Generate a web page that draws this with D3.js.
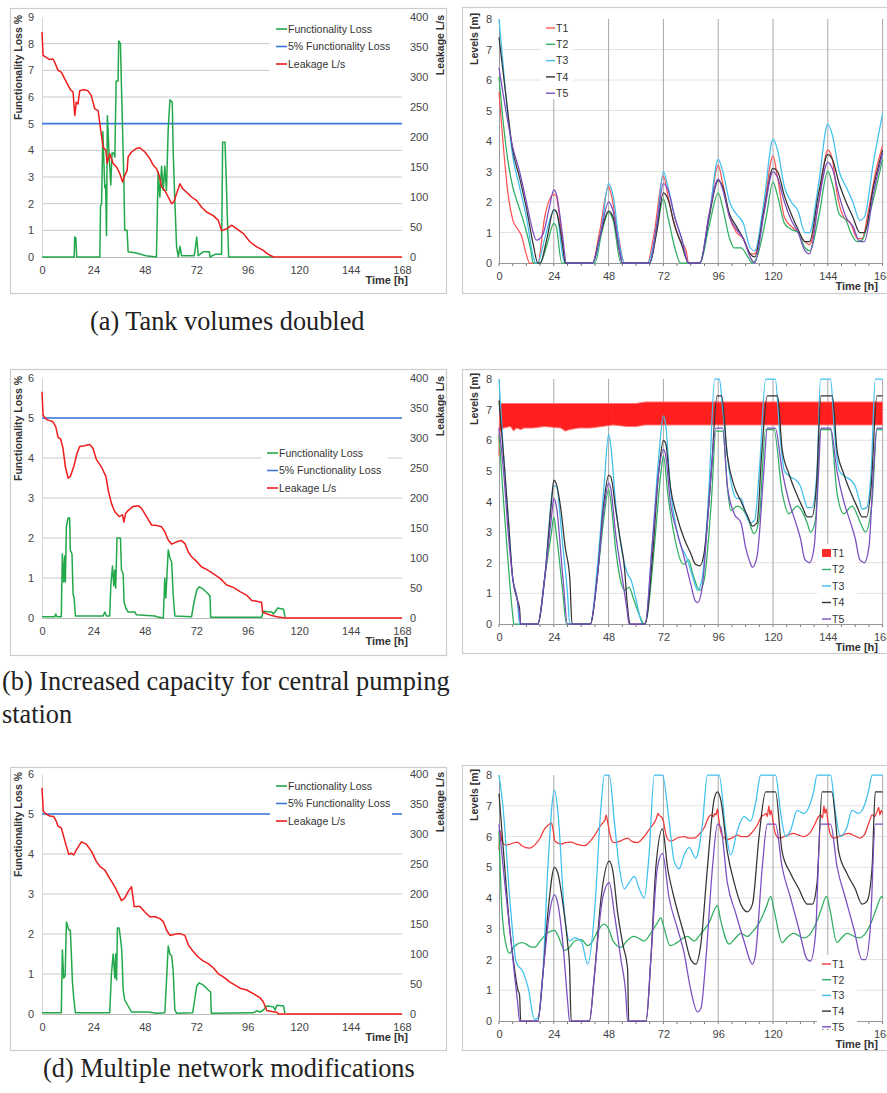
<!DOCTYPE html>
<html><head><meta charset="utf-8">
<script src="https://cdn.jsdelivr.net/npm/d3@7"></script>
<style>body{margin:0;background:#fff}</style>
</head><body><svg id="c" width="887" height="1093"></svg>
<script>
// ---------- tick labels / categories ----------
const hourTicks=[0,24,48,72,96,120,144,168];
const minorHourTicks=d3.range(0,169,6);
const lossTicksA=[0,1,2,3,4,5,6,7,8,9];
const lossTicksB=[0,1,2,3,4,5,6];
const leakTicks=[0,50,100,150,200,250,300,350,400];
const levelTicks=[0,1,2,3,4,5,6,7,8];
const leftLegend=["Functionality Loss","5% Functionality Loss","Leakage L/s"];
const tankNames=["T1","T2","T3","T4","T5"];
const threshold=[[0,5],[168,5]];

// ---------- (a) Tank volumes doubled ----------
const aLoss=[[0,0],[15,0],[15.3,0.75],[15.8,0.7],[16.2,0],[27,0],[27.3,1.9],[27.8,2.0],[28.4,4.7],[29.3,2.6],[29.7,2.7],[30.1,0.8],[30.5,5.3],[31.2,4.0],[32.1,2.7],[32.7,3.9],[33.5,3.9],[34,3.75],[34.6,6.6],[35.5,6.6],[35.8,8.1],[36.6,8.0],[37.2,6.0],[38.2,2.9],[38.6,1.0],[39.7,1.0],[40.2,0.2],[44,0.15],[48.5,0.05],[53.4,0],[54.2,3.2],[55,2.25],[55.8,3.4],[56.6,2.5],[57.3,3.4],[58.1,2.5],[58.9,4.8],[59.7,5.9],[60.8,5.8],[61.2,4.0],[62,2.1],[62.8,0.4],[63.6,0],[64.4,0.4],[65.1,0.05],[71,0.05],[71.4,0.25],[72.2,0.75],[72.9,0.05],[75.3,0.2],[78.1,0.2],[78.4,0],[80.7,0.1],[83.8,0.1],[84.3,4.3],[85.4,4.3],[85.9,3.1],[86.5,1.5],[87.1,0],[108,0]];
const aLeak=[[0,375],[0.5,336],[3.6,329],[5.1,330],[5.9,325],[7.5,311],[9,308],[10.6,297],[12.2,286],[13.2,279],[14.5,275],[15.3,236],[16,258],[16.8,255],[17.6,277],[19.2,279],[21.5,277],[23,269],[24.6,247],[26.2,244],[27,222],[28.5,183],[29.8,178],[30.4,156],[31.6,172],[33.2,156],[34.8,150],[36.3,139],[37.6,125],[38.6,136],[39.7,144],[40.2,167],[41.8,175],[44.1,181],[45.7,182],[48,175],[50.3,164],[51.9,153],[53.5,147],[54.7,136],[55.8,117],[57.3,111],[58.9,100],[60.5,89],[61.6,92],[62.8,106],[64.4,122],[65.6,114],[67.5,108],[69.8,100],[72.2,94],[74.5,83],[76.8,75],[79.9,69],[82.3,61],[83.8,44],[86.2,47],[88.5,53],[90.9,47],[94,39],[97.1,25],[100.2,17],[103.3,11],[104.9,6],[108,0],[168,0]];
const aT1=[[0,5.6],[1.7,4.0],[3.9,2.3],[6.1,1.4],[8.3,1.1],[9.8,0.9],[11.9,0.3],[13.4,0],[17,0],[20,1.5],[24,2.25],[25,2.2],[27,1.2],[29,0],[41,0],[44,1.0],[48,2.5],[49,2.3],[52,1.0],[55,0],[65,0],[68,1.0],[72,2.85],[74,2.2],[76,1.5],[79,0.8],[82,0.4],[83,0],[88,0],[92,1.5],[96,3.2],[98,2.6],[101,1.5],[104,1.0],[107,0.8],[110,0.3],[112,0.3],[116,1.8],[120,3.5],[122,2.8],[125,1.5],[128,1.2],[131,1.0],[134,0.7],[136,0.6],[140,2.0],[144,3.7],[146,3.4],[148,2.3],[151,1.5],[154,1.3],[157,0.8],[159,0.8],[162,1.8],[165,3.0],[168,3.85]];
const aT2=[[0,6.1],[2,4.5],[4,3.3],[6,2.5],[8,2.0],[11,1.3],[14,0.4],[15,0],[18,0],[21,0.6],[24,1.3],[25,1.2],[27.5,0],[42,0],[45,1.0],[48,1.65],[50,1.4],[53.4,0],[66,0],[69,1.0],[72,2.1],[74,1.5],[77,0.5],[79.5,0],[88,0],[92,1.2],[96,2.3],[98,1.8],[101,0.8],[103,0.5],[106,0.5],[109,0.2],[111,0],[113,0.2],[117,1.5],[120,2.65],[122,2.2],[125,1.3],[128,1.1],[131,1.0],[134,0.5],[136,0.4],[140,1.5],[144,3.0],[146,2.6],[149,1.6],[152,1.4],[154,1.0],[157,0.7],[159,0.75],[163,1.8],[168,3.4]];
const aT3=[[0,8.0],[3,5.5],[6,3.5],[9,2.5],[12,1.5],[15,0.2],[16,0],[17,0],[20,0.8],[24,1.7],[25,1.7],[28,0.2],[29,0],[41,0],[45,1.2],[48,2.6],[50,2.2],[53,0.5],[55,0],[65,0],[69,1.2],[72,3.0],[74,2.5],[77,1.5],[80,0.8],[83,0],[88,0],[92,1.5],[96,3.4],[98,3.0],[101,2.0],[104,1.6],[107,1.3],[110,0.5],[112,0.4],[116,2.0],[120,4.05],[122,3.7],[125,2.5],[128,2.0],[131,1.7],[134,1.0],[136,1.0],[140,2.6],[144,4.55],[146,4.2],[149,3.0],[152,2.5],[155,2.0],[158,1.4],[160,1.5],[164,3.3],[168,4.9]];
const aT4=[[0,7.4],[3,5.5],[6,3.7],[9,2.8],[12,1.8],[15,0.6],[17,0],[18,0],[21,0.8],[24,1.75],[25,1.7],[28,0.5],[29,0],[41,0],[44,0.8],[48,1.7],[50,1.5],[53,0.3],[54,0],[66,0],[69,1.0],[72,2.3],[74,2.1],[77,1.2],[80,0.6],[83,0],[88,0],[92,1.5],[96,2.7],[98,2.5],[101,1.6],[104,1.2],[107,0.8],[110,0.3],[112,0.2],[116,1.7],[120,3.1],[122,3.0],[125,2.2],[128,1.6],[131,1.1],[134,0.7],[136,0.7],[140,2.3],[144,3.55],[146,3.4],[149,2.6],[152,2.0],[155,1.5],[158,1.0],[160,1.0],[164,2.5],[168,3.7]];
const aT5=[[0,6.4],[3,5.0],[6,3.8],[9,3.0],[12,2.0],[15,1.0],[16.3,0.75],[19,0.9],[22,1.8],[24,2.4],[25,2.3],[28,0.8],[29.5,0],[41,0],[44,0.8],[48,2.0],[50,1.7],[53,0.3],[54,0],[66,0],[69,1.2],[72,2.6],[74,2.4],[77,1.5],[80,0.8],[83,0],[88,0],[92,1.6],[96,2.75],[98,2.4],[101,1.5],[104,1.1],[107,0.8],[110,0.2],[112,0],[116,1.6],[120,3.0],[122,2.8],[125,2.0],[128,1.4],[131,1.0],[134,0.4],[136,0.3],[140,2.0],[144,3.3],[146,3.1],[149,2.2],[152,1.5],[155,1.2],[158,0.7],[160,0.7],[164,2.3],[168,3.6]];

// ---------- (b) Increased capacity for central pumping station ----------
const bLoss=[[0,0.03],[6,0.03],[6.4,0.1],[7,0.03],[9,0.03],[9.5,1.6],[10.1,0.9],[10.6,1.55],[10.9,0.9],[11.4,2.3],[12.2,2.5],[12.9,2.5],[13.2,1.7],[14,1.6],[14.5,0.6],[15,0.5],[15.6,0.05],[28.5,0.05],[29.3,0.15],[30.1,0.05],[31.6,0.05],[32.1,0.8],[32.9,1.3],[33.5,0.8],[34,1.2],[34.4,0.75],[35,2.0],[36.6,2.0],[37.1,1.2],[37.9,1.1],[38.3,0.4],[39.1,0.25],[40.2,0.15],[43.3,0.15],[44.1,0.08],[52.7,0.05],[53.5,0.03],[56.6,0],[57.3,1.0],[57.8,0.5],[58.9,1.7],[59.7,1.5],[60.5,1.4],[61.2,0.6],[62,0.05],[69.8,0.03],[70.6,0.3],[72.2,0.7],[73.4,0.78],[75.3,0.72],[77.6,0.6],[78.4,0.55],[78.7,0.02],[102.5,0.02],[103.3,0.17],[107.2,0.15],[108,0.1],[110,0.25],[112.7,0.22],[113.4,0.02]];
const bLeak=[[0,377],[0.5,338],[2,331],[3.6,329],[5.1,327],[6.4,319],[7.5,301],[8.7,298],[9.8,283],[10.9,252],[12.2,233],[13.2,236],[14.8,252],[16.4,275],[17.6,286],[19.9,287],[22.3,289],[23.8,283],[25.4,264],[27.7,252],[29.8,236],[30.9,213],[32.4,191],[34,177],[36,169],[37.6,172],[38.2,160],[39,174],[40.2,179],[42.5,186],[44.9,187],[46.4,183],[48.8,169],[51.1,155],[53.5,154],[55.8,152],[57.3,144],[58.9,130],[60.5,123],[62.8,127],[65.1,129],[66.7,124],[68.3,110],[69.8,102],[72.2,94],[74.5,85],[76.8,81],[79.9,74],[83.1,66],[86.2,55],[89.3,51],[92.4,44],[95.5,38],[97.9,29],[100.2,28],[102.5,26],[102.9,10],[104.9,7],[107.2,4],[109.6,2],[113.4,0],[168,0]];
const bT1band=[[0,5.5,6.2],[0.5,6.3,7.2],[2,6.4,7.2],[5,6.45,7.2],[6.5,6.3,7.2],[7.5,6.4,7.2],[9.5,6.35,7.2],[11,6.4,7.2],[15,6.4,7.2],[20,6.45,7.2],[27,6.4,7.2],[29,6.3,7.2],[31,6.35,7.2],[35,6.4,7.2],[40,6.4,7.2],[45,6.45,7.2],[50,6.5,7.2],[56,6.45,7.2],[60,6.45,7.2],[64,6.5,7.25],[72,6.5,7.25],[80,6.5,7.25],[96,6.5,7.25],[110,6.5,7.25],[120,6.5,7.25],[144,6.5,7.25],[168,6.5,7.25]];
const bT2=[[0,6.2],[2,4.0],[4,2.0],[6,0.3],[6.5,0],[17,0],[20,1.5],[23,3.0],[24,3.5],[25,3.0],[28,1.0],[29.5,0],[40,0],[43,1.5],[46,3.5],[48,4.4],[49,4.0],[51,2.5],[53,1.5],[55,1.1],[57,1.2],[59,0.8],[62,0.2],[63.5,0],[65,0.3],[68,2.5],[71,5.0],[72,5.5],[74,4.2],[77,2.8],[80,2.0],[81,1.95],[83,2.1],[85,1.6],[88,1.1],[90,1.5],[93,4.0],[95,6.3],[98,6.3],[100,4.5],[101.5,3.7],[104.4,3.85],[108.8,3.5],[111.7,2.95],[113.9,3.4],[116.8,6.35],[120.4,6.35],[124,4.3],[127,3.6],[130.6,3.85],[135,3.3],[136.4,3.0],[138.6,3.4],[140.8,6.35],[145.2,6.35],[148,4.3],[151,3.6],[154.6,3.85],[158.3,3.3],[160.5,3.0],[163.4,4.0],[165.5,6.35],[168,6.35]];
const bT3=[[0,8.0],[2,5.5],[4,3.5],[6,1.5],[8,0.8],[9,0],[17,0],[20,1.5],[24,4.5],[25,4.5],[28,2.5],[30,1.0],[31,0],[40,0],[43,1.8],[46,4.5],[48,6.2],[49,5.8],[51,4.0],[54,2.3],[56,1.7],[58,1.4],[60,0.8],[63,0],[64,0],[67,2.5],[70,5.5],[72,6.8],[73,6.5],[75,4.5],[78,3.0],[80,2.5],[82,2.2],[85,1.5],[87,1.1],[89,1.5],[92,4.5],[94.5,8.0],[96.5,8.0],[98,7.0],[100,5.5],[102,4.5],[104,4.1],[106,4.1],[108,3.6],[110,3.3],[112,3.4],[114,5.0],[116.8,8.0],[121,8.0],[123,6.2],[125,5.0],[127.7,4.8],[130,4.7],[132,4.5],[134,4.0],[135,3.8],[137,3.8],[139.3,5.0],[140.8,8.0],[145.2,8.0],[147,6.2],[149,5.0],[152,4.8],[154,4.7],[156,4.5],[158,4.0],[159,3.75],[161,3.8],[163,5.0],[164.8,8.0],[168,8.0]];
const bT4=[[0,7.3],[2,5.5],[4,3.5],[6,1.5],[8,0.8],[9,0.5],[9.5,0],[17,0],[20,1.5],[23,4.0],[24,4.7],[25,4.6],[27,3.8],[29,2.5],[31,1.5],[32,0],[40,0],[43,1.5],[46,4.0],[48,4.85],[49,4.8],[51,3.8],[53,2.8],[55,1.8],[56,0.8],[57,0.1],[57.3,0],[64,0],[67,2.0],[70,5.0],[72,6.0],[73,5.9],[75,4.5],[78,3.5],[81,2.8],[84,2.3],[86,1.95],[88,1.9],[90,2.4],[93,5.0],[95.5,7.45],[97.5,7.45],[100,5.5],[103,4.5],[106,4.0],[109,3.5],[111,3.2],[113,3.3],[115,5.5],[117.5,7.45],[122,7.45],[124,5.7],[127,4.9],[130,4.3],[133,3.8],[135,3.5],[137,3.5],[139,4.5],[141,7.45],[146,7.45],[148,5.7],[151,4.9],[154,4.3],[157,3.8],[159,3.5],[161,3.5],[163,4.5],[165.5,7.45],[168,7.45]];
const bT5=[[0,6.4],[2,5.0],[4,3.0],[6,1.5],[8,0.8],[9,0.3],[9.5,0],[17,0],[20,1.5],[23,3.5],[24,4.1],[25,3.9],[28,1.5],[30,0],[40,0],[43,1.5],[46,3.8],[48,4.6],[49,4.4],[51,3.0],[54,1.5],[56,0.5],[57,0],[64,0],[67,2.5],[70,5.0],[72,5.7],[73,5.5],[75,4.0],[78,3.0],[81,2.2],[84,1.3],[86,0.75],[87,0.7],[89,1.2],[92,4.0],[95,6.4],[98,6.4],[100,4.5],[103,3.6],[106,3.3],[108,2.5],[110,2.0],[111,1.85],[113,2.2],[116,5.0],[117.5,6.4],[121,6.4],[124,5.0],[127,4.0],[130,3.3],[132,2.8],[134,2.1],[136,2.0],[138,2.5],[140,5.0],[141,6.4],[145.2,6.4],[148,5.0],[151,4.0],[154,3.3],[156,2.8],[158,2.1],[160,2.0],[162,2.5],[164,5.0],[165.5,6.4],[168,6.4]];

// ---------- (d) Multiple network modifications ----------
const dLoss=[[0,0.03],[9,0.03],[9.5,1.6],[10.1,0.9],[10.8,0.95],[11.4,2.3],[12.5,2.1],[13.2,2.1],[13.7,1.5],[14.2,0.8],[14.8,0.4],[15.6,0.03],[31.6,0.03],[32.4,1.0],[33.2,1.5],[34,0.9],[34.4,1.5],[34.8,0.85],[35.2,2.15],[36,2.15],[36.6,1.9],[37.2,1.6],[37.9,0.6],[38.6,0.35],[40.2,0.2],[41.8,0.05],[49.6,0.05],[53.5,0.02],[57.3,0.03],[57.8,0.5],[58.9,1.7],[59.7,1.5],[60.5,1.45],[61.2,1.1],[62,0.1],[62.8,0.02],[70.3,0.03],[71.1,0.3],[72.2,0.7],[73.4,0.78],[75.3,0.72],[77.6,0.6],[78.7,0.55],[79,0.02],[98.6,0.03],[100.2,0.08],[101.8,0.05],[103.3,0.1],[104.9,0.2],[108,0.18],[108.8,0.1],[109.6,0.22],[112.7,0.2],[113.4,0.02]];
const dLeak=[[0,377],[0.6,338],[2,333],[3.6,330],[5.5,329],[6.7,321],[7.5,313],[9,310],[10.1,296],[11.4,279],[12.5,266],[13.7,268],[14.8,265],[16.1,274],[18.4,287],[20.7,283],[23.1,271],[25.4,254],[27,246],[29.3,240],[31.6,226],[34,212],[35.5,201],[37.1,189],[38.6,193],[40.2,204],[41.8,212],[42.5,193],[43,179],[45.7,179],[48,170],[50.3,162],[52.7,162],[55,159],[56.6,154],[58.1,140],[59.7,131],[62,133],[64.4,134],[66.7,131],[68.3,115],[70.6,104],[72.9,95],[75.3,88],[77.6,84],[79.9,77],[82.3,67],[84.6,62],[87.7,53],[90.1,48],[92.4,43],[95.5,40],[98.6,34],[101.8,27],[103.3,20],[104.9,6],[107.2,4],[109.6,3],[110.3,0],[168,0]];
const dT1=[[0,5.55],[0.4,6.2],[1.5,5.8],[3,5.72],[6,5.78],[8,5.82],[10,5.7],[13.4,5.62],[16,5.75],[18,5.95],[20,6.25],[22,6.4],[22.9,6.45],[23.5,6.3],[24.5,5.85],[26,5.78],[27.2,5.75],[29,5.8],[31.6,5.82],[34,5.75],[37.4,5.7],[40,5.85],[42,6.05],[44,6.3],[45.5,6.45],[46.5,6.55],[46.9,6.7],[47.5,6.5],[48.5,6.1],[49.5,5.85],[50.5,5.8],[53,5.85],[56.3,5.95],[58,5.85],[60.7,5.8],[63,5.95],[66,6.25],[68,6.45],[69,6.6],[69.6,6.75],[70.2,6.68],[71,6.65],[72,6.5],[73,6.1],[74,5.9],[75.3,5.85],[78,5.95],[81.1,6.0],[83,5.95],[85.5,5.95],[88,6.1],[90,6.3],[92,6.65],[93,6.7],[94,6.65],[94.5,6.75],[95,6.7],[95.7,6.9],[96.2,6.6],[97,6.2],[98,6.0],[100,5.9],[102,5.95],[104.4,6.05],[106,6.0],[108.8,6.0],[111,6.15],[113,6.35],[115,6.65],[116,6.7],[117,6.75],[117.5,6.65],[118.2,7.0],[118.7,6.7],[119.2,6.85],[120,6.5],[121,6.1],[122.6,5.95],[125,6.0],[129,6.1],[131,6.05],[133.5,6.0],[136,6.1],[138,6.35],[140,6.65],[141,6.7],[141.7,6.6],[142.3,7.0],[142.8,6.75],[143.3,6.9],[144,6.5],[145,6.1],[146.6,5.95],[149,6.0],[153,6.1],[155,6.05],[158,5.95],[160,6.05],[162,6.45],[163.5,6.7],[164.5,6.65],[165.5,6.8],[166.3,6.95],[166.8,6.7],[167.4,6.85],[168,6.75]];
const dT2=[[0,6.2],[0.5,5.0],[1,4.0],[1.7,3.2],[3,2.5],[4.7,2.2],[6,2.35],[8,2.5],[9.8,2.55],[12,2.5],[14,2.4],[15.6,2.4],[18,2.6],[21,2.85],[24.3,2.95],[26,2.75],[28.7,2.3],[31,2.4],[33,2.6],[36,2.65],[38.9,2.45],[41,2.6],[43,2.9],[46,3.15],[48,3.0],[50,2.6],[53.4,2.4],[56,2.6],[59,2.75],[61,2.7],[63.6,2.6],[66,2.8],[69,3.15],[70.9,3.35],[72,3.1],[75,2.45],[78,2.55],[82.5,2.75],[85.5,2.6],[88,2.8],[92,3.2],[95.7,3.75],[97,3.3],[100.8,2.5],[103,2.65],[105.9,2.85],[108.8,2.75],[111,2.9],[114,3.2],[117,3.7],[119,4.05],[120.5,3.6],[124,2.55],[126,2.7],[129,2.85],[133.5,2.7],[136,2.8],[139,3.2],[141,3.6],[143.4,4.05],[145,3.6],[148,2.55],[150,2.7],[152.4,2.85],[157.5,2.7],[160,2.8],[163,3.2],[165,3.6],[167.7,4.05],[168,4.0]];
const dT3=[[0,8.0],[1.7,7.0],[4.7,4.0],[7.6,1.9],[10.5,1.6],[12.7,1.1],[15.6,0.05],[17,0.1],[19.2,1.5],[21.4,5.0],[24.3,7.5],[25.8,6.8],[28.7,3.5],[30.9,2.6],[33,2.7],[36,2.6],[38.9,1.85],[41.8,3.5],[44.7,7.0],[46.2,8.0],[48.3,8.0],[50.5,6.5],[52.7,5.0],[54.9,4.3],[57,4.5],[59.3,4.7],[61.4,4.3],[63.6,4.0],[65.8,5.5],[68,8.0],[71.6,8.0],[74.5,6.5],[76.7,5.2],[78.9,4.95],[81.1,5.4],[83.3,5.65],[86.2,5.3],[89.1,6.4],[91.3,8.0],[96.4,8.0],[99.3,6.2],[101.5,5.4],[104.4,6.2],[107.3,6.65],[110.2,6.5],[112.4,7.1],[114.6,8.0],[121.1,8.0],[123.3,6.8],[125.5,6.0],[127.7,6.2],[130.6,6.85],[133.5,6.75],[135.7,6.95],[137.9,7.5],[139.3,8.0],[145.2,8.0],[147.3,6.8],[149.5,6.0],[152.4,6.3],[154.6,6.85],[157.5,6.75],[159.7,6.95],[161.9,7.5],[163.4,8.0],[168,8.0]];
const dT4=[[0,7.4],[2.5,5.0],[4.7,3.0],[6.8,1.7],[8.3,1.0],[9,0.85],[9.5,0],[17,0],[19.2,1.5],[21.4,3.5],[24.3,5.0],[25.8,4.8],[28,3.8],[30.1,2.5],[30.9,1.8],[31.6,0],[39.6,0],[41.8,1.5],[44.7,4.0],[48.3,5.2],[49.8,4.9],[52,3.5],[54.2,2.5],[56.3,1.7],[56.8,0],[64.4,0],[66.5,2.0],[68.7,5.0],[71.6,6.25],[73.8,5.0],[76.7,4.0],[81.1,2.8],[84,2.0],[86.2,1.85],[88.4,2.5],[91.3,5.0],[94.2,7.2],[95.7,7.45],[97.1,7.2],[100,5.5],[103,4.5],[105.9,3.8],[108.8,3.55],[111,3.8],[113.9,6.0],[116.8,7.45],[121.1,7.45],[124,5.5],[127.7,4.8],[131.3,4.3],[135,3.8],[137.2,3.8],[139.3,4.5],[141.5,7.45],[145.7,7.45],[148.8,5.5],[152.4,4.8],[156,4.3],[159,3.8],[161.2,3.9],[163.4,5.0],[164.8,7.45],[168,7.45]];
const dT5=[[0,6.4],[2.5,4.5],[4.7,3.0],[6.8,1.5],[8.3,0.5],[9,0],[17,0],[19.2,1.5],[22.1,3.5],[24.3,4.1],[25.8,3.8],[28,2.5],[30.1,0.6],[30.9,0],[39.6,0],[41.8,1.5],[45.4,4.0],[48.3,4.5],[50.5,3.5],[53.4,2.0],[55.6,0.8],[56.3,0],[64.4,0],[66.5,2.0],[69.4,5.0],[71.6,5.45],[74.5,4.0],[78.2,3.0],[81.1,2.2],[84,1.0],[86.9,0.3],[88.4,0.4],[90.6,2.0],[93.5,5.0],[95.7,6.4],[97.1,6.3],[100,4.5],[103.7,3.5],[107.3,2.6],[111,1.85],[112.4,2.2],[115.3,5.0],[117.5,6.4],[121.1,6.4],[124,5.0],[127.7,4.0],[131.3,3.0],[135,2.0],[136.4,1.95],[138.6,2.8],[140.8,6.4],[145.2,6.4],[148.1,5.0],[151.7,4.0],[155.4,3.0],[159,2.0],[160.5,2.0],[162.6,3.0],[164.8,6.4],[168,6.4]];

// ---------- styles / layout ----------
const C={loss:"#22a84a",thr:"#3d78df",leak:"#ee1c1c"};
const tankColors=["#ff5252","#2fae60","#3fc0ef","#333333","#7a4cc0"];
const SANS="Liberation Sans, Arial, sans-serif";
const svg=d3.select("#c");
svg.append("rect").attr("width",887).attr("height",1093).attr("fill","#fff");

function frame(x0,y0,x1,y1){
  svg.append("rect").attr("x",x0+.5).attr("y",y0+.5).attr("width",x1-x0).attr("height",y1-y0)
    .attr("fill","none").attr("stroke","#cdcdcd").attr("stroke-width",1.2);
}
function styleAxis(g,domainColor){
  g.selectAll("text").attr("font-family",SANS).attr("font-size",11).attr("fill","#444");
  g.select(".domain").attr("stroke",domainColor||"none");
}
function vLabel(x,yTop,txt){
  svg.append("text").attr("transform",`translate(${x},${yTop}) rotate(-90)`).attr("text-anchor","end")
    .attr("font-family",SANS).attr("font-size",10.5).attr("font-weight","bold").attr("fill","#333").text(txt);
}
function timeLabel(xEnd,y){
  svg.append("text").attr("x",xEnd).attr("y",y).attr("text-anchor","end").attr("font-family",SANS)
    .attr("font-size",11).attr("font-weight","bold").attr("fill","#333").text("Time [h]");
}

function drawLeft(c){
  const x=d3.scaleLinear([0,168],[42,402]);
  const yL=d3.scaleLinear([0,c.maxL],[c.y0,c.yTop]);
  const yR=d3.scaleLinear([0,400],[c.y0,c.yTop]);
  frame(10,c.fTop,446,c.fBot);
  svg.append("g").selectAll("line").data(c.lossTicks.filter(v=>v>0&&v<c.maxL)).join("line")
    .attr("x1",42).attr("x2",402).attr("y1",d=>yL(d)).attr("y2",d=>yL(d))
    .attr("stroke","#c9c9c9").attr("stroke-width",1);
  const ax=svg.append("g").attr("transform",`translate(0,${c.y0})`)
    .call(d3.axisBottom(x).tickValues(hourTicks).tickSize(0).tickPadding(9));
  styleAxis(ax,"#bdbdbd");
  const al=svg.append("g").attr("transform","translate(42,0)")
    .call(d3.axisLeft(yL).tickValues(c.lossTicks).tickSize(0).tickPadding(8).tickFormat(d3.format("d")));
  styleAxis(al,"#d5d5d5");
  const ar=svg.append("g").attr("transform","translate(402,0)")
    .call(d3.axisRight(yR).tickValues(leakTicks).tickSize(0).tickPadding(8));
  styleAxis(ar,null);
  vLabel(22,c.yTop-2,"Functionality Loss %");
  vLabel(444,c.yTop-2,"Leakage L/s");
  timeLabel(408,c.y0+27);
  const line=d3.line().x(d=>x(d[0]));
  svg.append("rect").attr("x",c.lg.x-6).attr("y",c.lg.y-10).attr("width",c.lg.w).attr("height",c.lg.h).attr("fill","#fff");
  svg.append("path").datum(threshold).attr("d",line.y(d=>yL(d[1]))).attr("fill","none").attr("stroke",C.thr).attr("stroke-width",1.6);
  if(c.thrGap){ // legend box sits over part of the threshold line
    svg.append("rect").attr("x",c.lg.x-6).attr("y",c.lg.y-10).attr("width",c.lg.w).attr("height",c.lg.h).attr("fill","#fff");
  }
  svg.append("path").datum(c.loss).attr("d",line.y(d=>yL(d[1]))).attr("fill","none").attr("stroke",C.loss).attr("stroke-width",1.5).attr("stroke-linejoin","round");
  svg.append("path").datum(c.leak).attr("d",line.y(d=>yR(d[1]))).attr("fill","none").attr("stroke",C.leak).attr("stroke-width",1.5).attr("stroke-linejoin","round");
  const cols=[C.loss,C.thr,C.leak];
  leftLegend.forEach((t,i)=>{
    const yy=c.lg.y+i*c.lg.dy;
    svg.append("line").attr("x1",c.lg.x).attr("x2",c.lg.x+11).attr("y1",yy).attr("y2",yy).attr("stroke",cols[i]).attr("stroke-width",1.6);
    svg.append("text").attr("x",c.lg.x+12).attr("y",yy+3.6).attr("font-family",SANS).attr("font-size",10.5).attr("fill","#333").text(t);
  });
}

function drawRight(c){
  const x=d3.scaleLinear([0,168],[499,882.6]);
  const y=d3.scaleLinear([0,8],[c.y0,c.yTop]);
  frame(462,c.fTop,900,c.fBot);
  svg.append("g").selectAll("line").data(levelTicks.filter(v=>v>0&&v<8)).join("line")
    .attr("x1",499).attr("x2",887).attr("y1",d=>y(d)).attr("y2",d=>y(d)).attr("stroke","#e2e2e2");
  svg.append("g").selectAll("line").data(hourTicks.filter(v=>v>0)).join("line")
    .attr("x1",d=>x(d)).attr("x2",d=>x(d)).attr("y1",c.y0).attr("y2",c.yTop).attr("stroke","#a8a8a8").attr("stroke-width",1);
  svg.append("g").selectAll("line").data(minorHourTicks).join("line")
    .attr("x1",d=>x(d)).attr("x2",d=>x(d)).attr("y1",c.y0).attr("y2",c.y0+3).attr("stroke","#777");
  const shown=hourTicks.filter(v=>!(c.hide||[]).includes(v));
  const ax=svg.append("g").attr("transform",`translate(0,${c.y0})`)
    .call(d3.axisBottom(x).tickValues(shown).tickSize(0).tickPadding(9));
  styleAxis(ax,"#999");
  const ay=svg.append("g").attr("transform","translate(499,0)")
    .call(d3.axisLeft(y).tickValues(levelTicks).tickSize(0).tickPadding(7));
  styleAxis(ay,"#999");
  vLabel(478,c.yTop-6,"Levels [m]");
  timeLabel(878,c.y0+27);
  svg.append("rect").attr("x",c.lg.x-5).attr("y",c.lg.y-9).attr("width",c.lg.w).attr("height",c.lg.h).attr("fill","#fff");
  if(c.hide){ // remnant dots of the hidden tick label under the legend box
    svg.append("g").selectAll("circle").data([-5,0,5]).join("circle")
      .attr("cx",d=>x(144)+d).attr("cy",c.lg.y-9+c.lg.h+1.5).attr("r",0.8).attr("fill","#888");
  }
  const line=d3.line().x(d=>x(d[0])).y(d=>y(d[1])).curve(d3.curveMonotoneX);
  if(c.band){
    svg.append("path").datum(c.band).attr("d",d3.area().x(d=>x(d[0])).y0(d=>y(d[1])).y1(d=>y(d[2])))
      .attr("fill","#ff1414").attr("stroke","#ff6a6a").attr("stroke-width",1).attr("opacity",0.95);
  }
  c.series.forEach((s,i)=>{
    if(!s) return;
    svg.append("path").datum(s).attr("d",line).attr("fill","none").attr("stroke",c.colors[i])
      .attr("stroke-width",1.25).attr("stroke-linejoin","round");
  });
  tankNames.forEach((t,i)=>{
    const yy=c.lg.y+i*c.lg.dy;
    if(i===0&&c.band){
      svg.append("rect").attr("x",c.lg.x).attr("y",yy-4).attr("width",9).attr("height",8).attr("fill","#ff1414").attr("opacity",0.9);
    } else {
      svg.append("line").attr("x1",c.lg.x).attr("x2",c.lg.x+9).attr("y1",yy).attr("y2",yy).attr("stroke",c.colors[i]).attr("stroke-width",1.4);
    }
    svg.append("text").attr("x",c.lg.x+10).attr("y",yy+3.8).attr("font-family",SANS).attr("font-size",10.5).attr("fill","#333").text(t);
  });
}

// (a)
drawLeft({fTop:8,fBot:293,y0:257,yTop:17,maxL:9,lossTicks:lossTicksA,loss:aLoss,leak:aLeak,
  lg:{x:276,y:29,dy:17.5,w:132,h:53}});
drawRight({fTop:7,fBot:293,y0:263,yTop:19,series:[aT1,aT2,aT3,aT4,aT5],colors:tankColors,
  lg:{x:546,y:28,dy:16.3,w:32,h:80}});
// (b)
drawLeft({fTop:369,fBot:655,y0:618,yTop:378,maxL:6,lossTicks:lossTicksB,loss:bLoss,leak:bLeak,
  lg:{x:267,y:453,dy:17.5,w:127,h:53}});
drawRight({fTop:369,fBot:653,y0:624,yTop:379,band:bT1band,series:[null,bT2,bT3,bT4,bT5],colors:tankColors,
  lg:{x:822,y:553,dy:16.5,w:40,h:80}});
// (d)
drawLeft({fTop:767,fBot:1050,y0:1014,yTop:774,maxL:6,lossTicks:lossTicksB,loss:dLoss,leak:dLeak,thrGap:true,
  lg:{x:276,y:786,dy:17.5,w:122,h:53}});
drawRight({fTop:765,fBot:1050,y0:1021,yTop:775,hide:[144],series:[dT1,dT2,dT3,dT4,dT5],colors:["#f23a3a","#2fae60","#3fc0ef","#333333","#7a4cc0"],
  lg:{x:822,y:964,dy:15.7,w:40,h:73}});

// captions
const SERIF="Liberation Serif, Times New Roman, serif";
[["(a) Tank volumes doubled",90,330],["(b) Increased capacity for central pumping",2,690],["station",2,723],["(d) Multiple network modifications",43,1077]]
.forEach(([t,x,y])=>svg.append("text").attr("x",x).attr("y",y).attr("font-family",SERIF).attr("font-size",26.3).attr("fill","#222").text(t));
</script></body></html>
